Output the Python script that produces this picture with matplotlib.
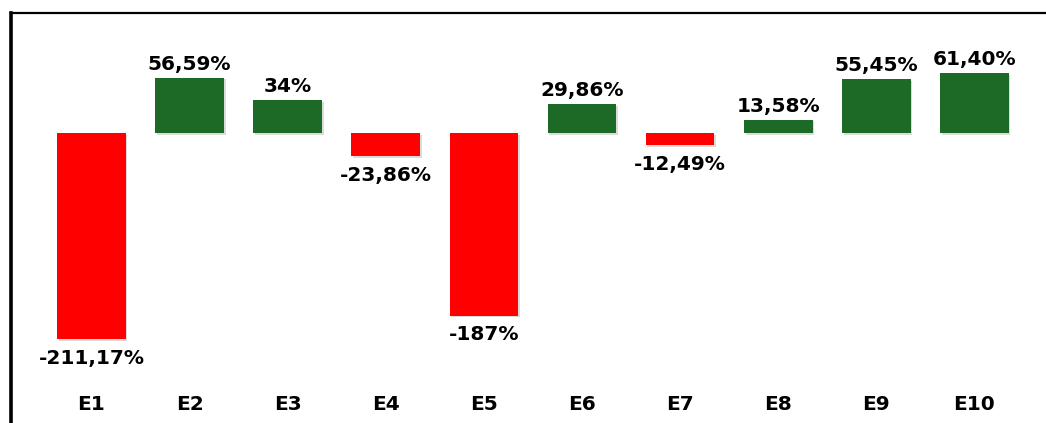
import matplotlib
matplotlib.use("Agg")
import matplotlib.pyplot as plt
import matplotlib.patheffects as pe
import matplotlib.transforms as mtransforms

# data
categories = ["E1", "E2", "E3", "E4", "E5", "E6", "E7", "E8", "E9", "E10"]
values = [-211.17, 56.59, 34.0, -23.86, -187.0, 29.86, -12.49, 13.58, 55.45, 61.40]

RED = "#FF0000"
GREEN = "#1D6A27"


def fmt(v):
    s = f"{v:.2f}".replace(".", ",")
    if s.endswith(",00"):
        s = s[:-3]
    return s + "%"


W, H, DPI = 1046, 423, 100
fig = plt.figure(figsize=(W / DPI, H / DPI), dpi=DPI)
fig.patch.set_facecolor("white")

# axes frame: left edge at x=11 px, top edge at y=13 px, runs off right/bottom
ax = fig.add_axes([11 / W, 0.0, (W - 11) / W, (H - 13) / H])
ax.set_xlim(-0.82, 9.73)
ax.set_ylim(-297, 123)

colors = [GREEN if v >= 0 else RED for v in values]
x = list(range(len(categories)))
bars = ax.bar(x, values, width=0.70, color=colors, zorder=2)
for b in bars:
    b.set_path_effects([pe.SimplePatchShadow(offset=(1.2, -1.2), shadow_rgbFace="#999999", alpha=0.35),
                        pe.Normal()])

for xi, v in zip(x, values):
    if v >= 0:
        ax.annotate(fmt(v), (xi, v), xytext=(0, 3), textcoords="offset points",
                    ha="center", va="bottom", fontsize=14.5, fontweight="bold", color="black")
    else:
        ax.annotate(fmt(v), (xi, v), xytext=(0, -7), textcoords="offset points",
                    ha="center", va="top", fontsize=14.5, fontweight="bold", color="black")

trans = mtransforms.blended_transform_factory(ax.transData, ax.transAxes)
for xi, c in zip(x, categories):
    ax.text(xi, 0.046, c, transform=trans, ha="center", va="center",
            fontsize=14.5, fontweight="bold", color="black")

ax.set_xticks([])
ax.set_yticks([])
ax.spines["right"].set_visible(False)
ax.spines["bottom"].set_visible(False)
ax.spines["left"].set_linewidth(2.6)
ax.spines["top"].set_linewidth(1.6)
ax.spines["left"].set_color("black")
ax.spines["top"].set_color("black")

fig.savefig("out.png", dpi=DPI)
